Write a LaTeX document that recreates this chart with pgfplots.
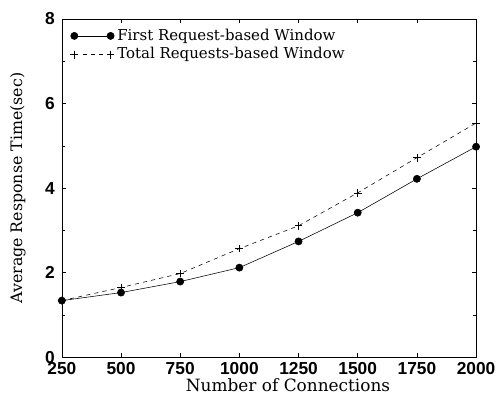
\documentclass[border=0pt]{standalone}
\usepackage{fontspec}
\setmainfont{DejaVu Serif}
\newfontfamily\tickfont{Liberation Sans}
\usepackage{pgfplots}
\pgfplotsset{compat=1.18}
\begin{document}
\begin{tikzpicture}
\begin{axis}[
  name=ax,
  scale only axis,
  width=298.8pt, height=244pt,
  xmin=250, xmax=2000, ymin=0, ymax=8,
  xtick={250,500,...,2000}, ytick={0,2,4,6,8},
  minor y tick num=1,
  tick align=inside,
  tick style={black, thin},
  major tick length=3pt, minor tick length=2pt,
  ticklabel style={font=\tickfont\bfseries\fontsize{12.5}{14}\selectfont},
  /pgf/number format/assume math mode=true,
  /pgf/number format/set thousands separator={},
  xticklabel style={yshift=-0.5pt},
  yticklabel style={xshift=-1.5pt},
  xlabel={Number of Connections},
  ylabel={Average Response Time(sec)},
  xlabel style={font=\fontsize{12.2}{14}\selectfont, at={(axis description cs:0.546,-0.082)}, anchor=center},
  ylabel style={font=\fontsize{11.4}{13}\selectfont, at={(axis description cs:-0.106,0.5)}, anchor=center},
  legend style={draw=none, fill=none, at={(axis description cs:0,1)}, anchor=north west, xshift=5pt, yshift=-4pt, font=\fontsize{10.8}{13}\selectfont, inner sep=1pt, row sep=-0.5pt, nodes={text height=8pt, text depth=2pt}},
  legend image code/.code={\draw[#1] plot coordinates {(0cm,0cm) (0.92cm,0cm)};},
  legend cell align=left,
  axis line style={black, thin},
]
\addplot[black, thin, mark=*, mark size=2.6pt] coordinates {
 (250,1.34) (500,1.53) (750,1.79) (1000,2.12) (1250,2.74) (1500,3.42) (1750,4.22) (2000,4.98)};
\addlegendentry{First Request-based Window}
\addplot[black, thin, dashed, mark=+, mark size=2.8pt, mark options={solid}] coordinates {
 (250,1.34) (500,1.65) (750,1.98) (1000,2.57) (1250,3.11) (1500,3.89) (1750,4.72) (2000,5.54)};
\addlegendentry{Total Requests-based Window}
\end{axis}
\path ([shift={(-44.6pt,-27.4pt)}]ax.south west) rectangle ([shift={(16.6pt,13.7pt)}]ax.north east);
\end{tikzpicture}
\end{document}
